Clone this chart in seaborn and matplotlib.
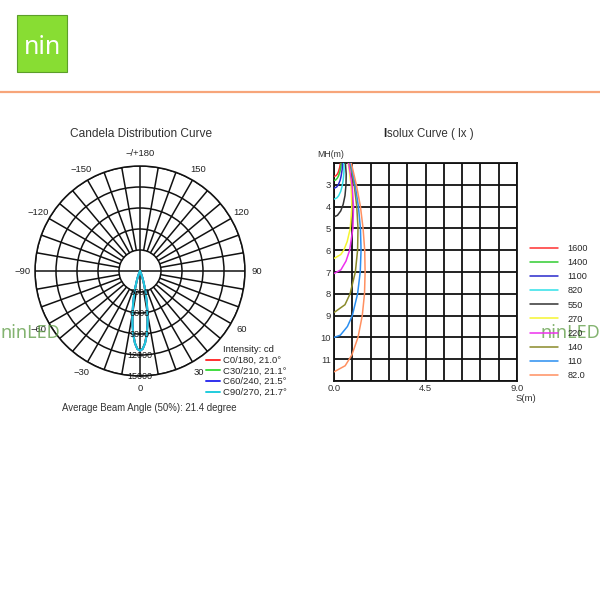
import matplotlib
matplotlib.use("Agg")
import matplotlib.pyplot as plt
import numpy as np
import seaborn as sns

# candela distribution (half profile, mirrored for negative angles)
ANGLES = [0, 2, 4, 6, 8, 10, 12, 14, 16, 18, 20, 24, 28, 32, 40, 60, 90]
CD_C0 = [11400, 11120, 10320, 9100, 7640, 6080, 4620, 3330, 2290, 1480, 910, 290, 70, 15, 0, 0, 0]
CD_C30 = [11400, 11120, 10330, 9120, 7670, 6120, 4660, 3370, 2320, 1500, 930, 300, 75, 15, 0, 0, 0]
CD_C60 = [11400, 11130, 10350, 9170, 7740, 6220, 4760, 3470, 2400, 1570, 970, 315, 80, 16, 0, 0, 0]
CD_C90 = [11400, 11130, 10360, 9190, 7770, 6260, 4800, 3510, 2440, 1600, 990, 325, 82, 17, 0, 0, 0]
PLANES = ["C0/180, 21.0°", "C30/210, 21.1°", "C60/240, 21.5°", "C90/270, 21.7°"]
PLANE_COLORS = ["#ff3030", "#40dd40", "#3030ee", "#20ccdd"]
RINGS = [3000, 6000, 9000, 12000, 15000]
ANGLE_LABELS = {0: "0", 30: "30", 60: "60", 90: "90", 120: "120", 150: "150",
                180: "\u2212/+180", -150: "\u2212150", -120: "\u2212120",
                -90: "\u221290", -60: "\u221260", -30: "\u221230"}

# isolux curves: horizontal distance S(m) vs mounting height MH(m)
S_1600 = [0.32, 0.28, 0.22, 0.17, 0.10, 0.0]
MH_1600 = [2.0, 2.2, 2.4, 2.5, 2.58, 2.62]
S_1400 = [0.36, 0.33, 0.29, 0.22, 0.16, 0.08, 0.0]
MH_1400 = [2.0, 2.2, 2.4, 2.6, 2.7, 2.78, 2.80]
S_1100 = [0.42, 0.40, 0.35, 0.30, 0.21, 0.13, 0.0]
MH_1100 = [2.0, 2.3, 2.6, 2.8, 3.0, 3.1, 3.16]
S_820 = [0.48, 0.49, 0.45, 0.39, 0.33, 0.23, 0.14, 0.0]
MH_820 = [2.0, 2.4, 2.8, 3.1, 3.3, 3.5, 3.6, 3.66]
S_550 = [0.56, 0.60, 0.59, 0.54, 0.45, 0.33, 0.17, 0.0]
MH_550 = [2.0, 2.5, 3.0, 3.5, 3.9, 4.2, 4.4, 4.47]
S_270 = [0.70, 0.84, 0.88, 0.80, 0.65, 0.48, 0.33, 0.0]
MH_270 = [2.0, 3.0, 4.0, 5.0, 5.6, 6.0, 6.2, 6.38]
S_220 = [0.72, 0.89, 0.96, 0.93, 0.77, 0.59, 0.34, 0.0]
MH_220 = [2.0, 3.0, 4.0, 5.0, 6.0, 6.5, 6.9, 7.07]
S_140 = [0.78, 0.99, 1.12, 1.18, 1.16, 1.05, 0.79, 0.54, 0.0]
MH_140 = [2.0, 3.0, 4.0, 5.0, 6.0, 7.0, 8.0, 8.5, 8.86]
S_110 = [0.81, 1.04, 1.20, 1.30, 1.33, 1.29, 1.16, 0.90, 0.66, 0.31, 0.0]
MH_110 = [2.0, 3.0, 4.0, 5.0, 6.0, 7.0, 8.0, 9.0, 9.5, 9.9, 10.0]
S_82 = [0.85, 1.10, 1.30, 1.43, 1.51, 1.53, 1.50, 1.39, 1.18, 0.88, 0.55, 0.0]
MH_82 = [2.0, 3.0, 4.0, 5.0, 6.0, 7.0, 8.0, 9.0, 10.0, 10.8, 11.3, 11.58]
LEVELS = ["1600", "1400", "1100", "820", "550", "270", "220", "140", "110", "82.0"]
LEVEL_COLORS = ["#ff3030", "#30cc30", "#2a2acc", "#30e0e8", "#333333",
                "#f5f530", "#ee30ee", "#8a8a2a", "#2a8ef0", "#ff9060"]
X_TICKS = [0, 0.9, 1.8, 2.7, 3.6, 4.5, 5.4, 6.3, 7.2, 8.1, 9.0]
X_TICK_LABELS = ["0.0", "", "", "", "", "4.5", "", "", "", "", "9.0"]
Y_TICKS = [2, 3, 4, 5, 6, 7, 8, 9, 10, 11, 12]
Y_TICK_LABELS = ["", "3", "4", "5", "6", "7", "8", "9", "10", "11", ""]


def main() -> None:
    sns.set_theme(style="white")
    plt.rcParams["font.family"] = ["Liberation Sans", "DejaVu Sans"]
    fig = plt.figure(figsize=(6, 6), dpi=100)

    # header
    fig.patches.append(plt.Rectangle((17 / 600, 1 - 72 / 600), 50 / 600, 57 / 600,
                                     transform=fig.transFigure, facecolor="#88dd33",
                                     edgecolor="#5c9e2a", lw=0.8))
    fig.text(42 / 600, 1 - 47 / 600, "nin", color="white", fontsize=18,
             family=["Noto Sans", "DejaVu Sans"], ha="center", va="center")
    fig.add_artist(plt.Line2D([0, 1], [1 - 92 / 600] * 2, color="#f7a57a", lw=1.6))

    # candela polar chart
    ax = fig.add_axes([35 / 600, 1 - 376 / 600, 210 / 600, 210 / 600], projection="polar")
    ax.set_theta_zero_location("S")
    ax.set_theta_direction(1)
    ax.set_ylim(0, 15000)
    ax.set_yticks(RINGS)
    ax.set_yticklabels([])
    ax.set_xticks([])
    ax.yaxis.grid(True, color="#111111", lw=1.1)
    ax.xaxis.grid(False)
    ax.spines["polar"].set_color("#111111")
    ax.spines["polar"].set_linewidth(1.1)
    for deg in range(0, 360, 10):
        th = np.radians(deg)
        start = 0 if deg % 90 == 0 else RINGS[0]
        ax.plot([th, th], [start, 15000], color="#111111", lw=1.1, zorder=1)
    for deg, lab in ANGLE_LABELS.items():
        ax.text(np.radians(deg), 15000 * 1.115, lab, ha="center", va="center",
                fontsize=6.8, color="#222222", clip_on=False)
    half = [np.radians(a) for a in ANGLES]
    theta = [-t for t in half[::-1]] + half[1:]
    handles = []
    for cd, col, lab in zip([CD_C0, CD_C30, CD_C60, CD_C90], PLANE_COLORS, PLANES):
        r = cd[::-1] + cd[1:]
        (ln,) = ax.plot(theta, r, color=col, lw=1.4, label=lab, zorder=3)
        handles.append(ln)
    for r in RINGS:
        ax.text(0, r, str(r), ha="center", va="center", fontsize=6.5, color="#111111", zorder=4)

    fig.text(141 / 600, 1 - 134 / 600, "Candela Distribution Curve", ha="center",
             va="center", fontsize=8.6, color="#333333")
    fig.text(223 / 600, 1 - 350 / 600, "Intensity: cd", ha="left", va="center",
             fontsize=6.8, color="#222222")
    fig.legend(handles=handles, loc="upper left", bbox_to_anchor=(206 / 600, 1 - 356 / 600),
               frameon=False, fontsize=6.8, handlelength=1.5, handletextpad=0.35,
               labelspacing=0.17, borderpad=0, borderaxespad=0)
    fig.text(149 / 600, 1 - 408 / 600, "Average Beam Angle (50%): 21.4 degree",
             ha="center", va="center", fontsize=6.9, color="#333333")

    # isolux chart
    ax2 = fig.add_axes([334 / 600, 1 - 381 / 600, 183 / 600, 218 / 600])
    curves = [(S_1600, MH_1600), (S_1400, MH_1400), (S_1100, MH_1100), (S_820, MH_820),
              (S_550, MH_550), (S_270, MH_270), (S_220, MH_220), (S_140, MH_140),
              (S_110, MH_110), (S_82, MH_82)]
    iso_handles = []
    for (s, mh), col, lab in zip(curves, LEVEL_COLORS, LEVELS):
        sns.lineplot(x=s, y=mh, sort=False, estimator=None, color=col, lw=1.1,
                     ax=ax2, legend=False, zorder=3)
        ax2.lines[-1].set_label(lab)
        iso_handles.append(ax2.lines[-1])
    ax2.set_xlim(0, 9)
    ax2.set_ylim(12, 2)
    ax2.set_xticks(X_TICKS)
    ax2.set_xticklabels(X_TICK_LABELS)
    ax2.set_yticks(Y_TICKS)
    ax2.set_yticklabels(Y_TICK_LABELS)
    ax2.tick_params(length=0, labelsize=6.8, labelcolor="#333333", pad=2)
    ax2.grid(True, color="#111111", lw=1.3)
    ax2.set_axisbelow(True)
    for sp in ax2.spines.values():
        sp.set_color("#111111")
        sp.set_linewidth(1.3)
    ax2.set_xlabel("")
    ax2.set_ylabel("")
    ax2.text(-0.09, 1.037, "MH(m)", transform=ax2.transAxes, ha="left", va="center",
             fontsize=6.3, color="#333333")
    ax2.text(0.99, -0.078, "S(m)", transform=ax2.transAxes, ha="left", va="center",
             fontsize=6.8, color="#333333")
    fig.text(386 / 600, 1 - 134 / 600, "I", ha="right", va="center", fontsize=8.3,
             weight="bold", color="#222222")
    fig.text(387 / 600, 1 - 134 / 600, "solux Curve ( lx )", ha="left", va="center",
             fontsize=8.3, color="#333333")
    fig.legend(handles=iso_handles, loc="upper left", bbox_to_anchor=(530 / 600, 1 - 244 / 600),
               frameon=False, fontsize=6.6, handlelength=3.0, handletextpad=1.1,
               labelspacing=0.56, borderpad=0, borderaxespad=0)

    # watermarks
    for x in (0.0, 540 / 600):
        fig.text(x, 1 - 333 / 600, "ninLED", ha="left", va="center", fontsize=13,
                 color="#5a9a40", alpha=0.75, family=["Noto Sans", "DejaVu Sans"])

    fig.savefig("out.png", dpi=100)
    plt.close(fig)


if __name__ == "__main__":
    main()
